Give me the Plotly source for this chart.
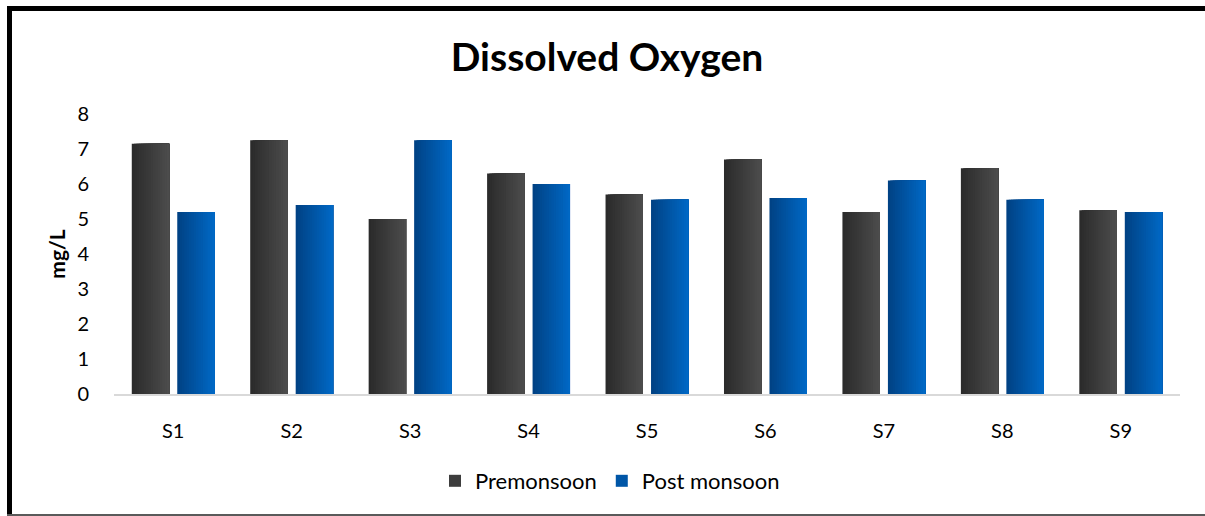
import plotly.graph_objects as go

# Dissolved oxygen (mg/L) at each sampling station
stations = ["S1", "S2", "S3", "S4", "S5", "S6", "S7", "S8", "S9"]
premonsoon = [7.15, 7.25, 5.0, 6.3, 5.7, 6.7, 5.2, 6.45, 5.25]
post_monsoon = [5.2, 5.4, 7.25, 6.0, 5.55, 5.6, 6.1, 5.55, 5.2]
y_ticks = [0, 1, 2, 3, 4, 5, 6, 7, 8]

W, H = 1205, 516
ML, MR, MT, MB = 114, 25, 114, 122
FONT = "Lato"

def px_x(px):
    return (px - ML) / (W - ML - MR)

def px_y(py):
    return (H - MB - py) / (H - MT - MB)

def lerp(c1, c2, t):
    return "rgb({},{},{})".format(*[round(a + (b - a) * t) for a, b in zip(c1, c2)])

fig = go.Figure()

xs = list(range(len(stations)))
bar_w = 0.316
pair_gap = 0.068
N_STRIPS = 16

series = [
    ("Premonsoon", premonsoon, -pair_gap / 2 - bar_w, (0x2b, 0x2b, 0x2b), (0x4c, 0x4c, 0x4c)),
    ("Post monsoon", post_monsoon, pair_gap / 2, (0x00, 0x42, 0x85), (0x00, 0x68, 0xc4)),
]

# each bar is painted as stacked overlapping strips to give a left-to-right gradient
for name, vals, base, c_left, c_right in series:
    for k in range(N_STRIPS):
        t = k / (N_STRIPS - 1)
        fig.add_trace(go.Bar(
            x=xs,
            y=vals,
            offset=base + k * bar_w / N_STRIPS,
            width=bar_w - k * bar_w / N_STRIPS,
            marker=dict(color=lerp(c_left, c_right, t), line=dict(width=0)),
            name=name,
            legendgroup=name,
            showlegend=(k == N_STRIPS // 2),
            hoverinfo="skip",
        ))

fig.update_layout(
    width=W,
    height=H,
    margin=dict(l=ML, r=MR, t=MT, b=MB),
    paper_bgcolor="white",
    plot_bgcolor="white",
    barmode="overlay",
    font=dict(family=FONT, color="#000000"),
    title=dict(
        text="<b>Dissolved Oxygen</b>",
        x=607 / W,
        xanchor="center",
        y=1 - 57 / H,
        yanchor="middle",
        font=dict(family=FONT, size=39, color="#000000"),
    ),
    xaxis=dict(
        range=[-0.5, len(stations) - 0.5],
        tickmode="array",
        tickvals=xs,
        ticktext=stations,
        showgrid=False,
        zeroline=False,
        showline=True,
        linecolor="#d9d9d9",
        linewidth=2,
        ticks="outside",
        ticklen=18,
        tickcolor="rgba(0,0,0,0)",
        tickfont=dict(family=FONT, size=20, color="#000000"),
        fixedrange=True,
    ),
    yaxis=dict(
        range=[0, 8],
        tickmode="array",
        tickvals=y_ticks,
        showgrid=False,
        zeroline=False,
        showline=False,
        ticks="outside",
        ticklen=20,
        tickcolor="rgba(0,0,0,0)",
        tickfont=dict(family=FONT, size=20, color="#000000"),
        title=dict(text="<b>mg/L</b>", font=dict(family=FONT, size=21, color="#000000"), standoff=6),
    ),
    legend=dict(
        orientation="h",
        x=px_x(610),
        xanchor="center",
        y=px_y(481),
        yanchor="middle",
        font=dict(family=FONT, size=22, color="#000000"),
        itemwidth=30,
        traceorder="normal",
    ),
    shapes=[
        dict(type="line", xref="paper", yref="paper",
             x0=px_x(7), x1=px_x(1210), y0=px_y(8.5), y1=px_y(8.5),
             line=dict(color="#000000", width=5)),
        dict(type="line", xref="paper", yref="paper",
             x0=px_x(9.5), x1=px_x(9.5), y0=px_y(6), y1=px_y(520),
             line=dict(color="#000000", width=5)),
        dict(type="line", xref="paper", yref="paper",
             x0=px_x(7), x1=px_x(1210), y0=px_y(515), y1=px_y(515),
             line=dict(color="#5a5a5a", width=2)),
    ],
)

fig.write_html("out.html")
